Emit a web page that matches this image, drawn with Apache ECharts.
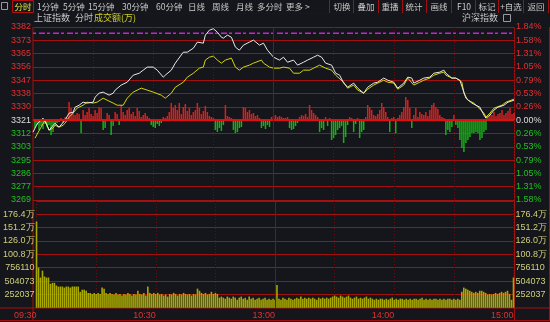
<!DOCTYPE html>
<html><head><meta charset="utf-8">
<script src="https://cdn.jsdelivr.net/npm/echarts@6/dist/echarts.min.js"></script>
<style>html,body{margin:0;padding:0;background:#15161b;}#c{width:550px;height:322px;}</style>
</head><body><div id="c"></div><script>
// ---- data ----
const preClose = 3321;
const priceStep = 8.73;
const priceLabels = ['3269','3277','3286','3295','3303','3312','3321','3330','3338','3347','3356','3365','3373','3382'];
const pctLabels = ['1.58%','1.31%','1.05%','0.79%','0.53%','0.26%','0.00%','0.26%','0.53%','0.79%','1.05%','1.31%','1.58%','1.84%'];
const volStep = 25.2037; // 万
const volLabels = ['','252037','504073','756110','100.8万','126.0万','151.2万','176.4万',''];
const timeLabels = ['09:30','','10:30','','13:00','','14:00','','15:00'];
const magentaLevel = 3378;

// index (white) line: minute index -> price
const priceMinute = [0,2,5,7,8,11,13,16,18,20,21,23,25,27,30,31,33,35,36,38,40,41,44,47,50,53,55,57,60,62,65,66,69,71,75,77,80,82,85,86,88,90,92,94,95,97,99,101,103,105,108,110,113,115,117,120,123,125,127,130,132,135,137,140,142,144,146,149,151,153,155,157,160,162,165,167,170,172,175,177,180,182,185,187,189,190,193,195,198,200,203,205,206,209,211,213,215,216,219,221,223,225,226,228,230,232,235,237,240];
const priceValue = [3313.1,3318.4,3322.3,3317.7,3314.4,3319.0,3316.4,3321.0,3325.6,3326.2,
3329.5,3330.8,3332.8,3332.2,3332.8,3336.1,3338.7,3339.4,3338.7,3337.4,
3338.7,3340.7,3344.0,3345.9,3350.5,3351.8,3353.8,3355.8,3355.8,3353.8,
3349.2,3350.5,3353.8,3358.4,3365.6,3365.6,3368.2,3372.2,3371.5,3376.8,
3380.0,3381.0,3378.7,3375.4,3374.8,3376.8,3375.4,3368.9,3366.9,3370.2,
3372.2,3373.5,3370.2,3371.5,3366.9,3362.3,3360.4,3362.3,3359.0,3360.4,
3357.1,3359.0,3360.4,3362.3,3363.6,3362.3,3358.4,3357.1,3351.8,3350.5,
3345.3,3342.6,3345.3,3342.0,3338.7,3342.6,3345.3,3345.9,3348.6,3347.2,
3345.9,3342.0,3345.3,3349.2,3348.6,3345.3,3347.2,3348.6,3349.2,3351.8,
3352.5,3353.8,3351.8,3348.6,3348.6,3347.2,3339.4,3335.4,3332.2,3330.8,
3329.5,3324.3,3322.3,3324.3,3327.6,3329.5,3330.8,3332.8,3334.1];

// yellow line: minute index -> value
const avgMinute = [1,4,6,8,10,11,13,15,16,18,20,22,25,27,30,32,35,37,40,42,45,47,50,54,57,60,64,66,69,71,75,77,80,83,85,86,88,90,92,94,96,99,101,103,105,108,110,114,115,118,120,123,125,128,130,133,135,138,140,143,146,149,151,155,157,160,162,165,167,170,172,175,177,180,182,185,187,190,193,195,198,200,203,205,206,209,211,214,215,217,220,222,225,226,228,230,234,236,240];
const avgValue = [3309.2,3316.4,3321.0,3314.4,3315.8,3317.7,3316.4,3317.7,3319.0,3323.0,
3325.6,3328.9,3330.8,3332.8,3332.2,3332.8,3335.4,3334.1,3332.2,3330.8,
3330.8,3335.4,3339.4,3342.0,3340.7,3339.4,3337.4,3335.4,3338.7,3342.6,
3345.9,3349.2,3351.8,3355.1,3355.8,3360.4,3362.3,3363.0,3360.4,3358.4,
3360.4,3361.7,3355.8,3353.8,3355.8,3357.1,3358.4,3360.4,3358.4,3355.8,
3355.1,3355.1,3355.8,3355.1,3351.8,3351.8,3353.8,3353.8,3355.1,3357.1,
3355.1,3353.8,3350.5,3345.9,3342.0,3344.0,3340.7,3338.7,3341.3,3344.0,
3345.3,3347.2,3345.9,3345.3,3341.3,3344.0,3348.6,3344.0,3345.9,3347.2,
3348.6,3350.5,3351.8,3352.5,3350.5,3348.6,3348.6,3345.9,3338.7,3334.1,
3332.2,3329.5,3325.6,3323.0,3325.6,3328.9,3330.8,3332.8,3334.8];

// red/green strength bars, one per minute
const strength = [0,-8,-5,-10,-6,-9,-4,-7,-5,-15,-12,-6,-3,-2,2,-3,3,2,18,12,8,5,7,6,-13,10,5,8,12,6,4,10,7,13,12,-10,-8,7,5,-15,-6,8,6,-5,
15,8,5,10,12,6,8,4,12,9,3,5,7,4,2,-5,-7,-8,-4,-6,-3,3,2,4,
8,17,12,15,10,17,6,13,16,9,12,5,8,10,17,12,6,9,14,8,4,3,2,-10,-12,-8,-11,-5,15,4,3,2,-10,-13,-12,-8,-7,
13,12,8,10,6,7,4,5,2,-8,-6,-9,-5,-7,3,4,5,3,4,3,2,2,3,-8,-10,-9,-6,-3,3,5,4,6,3,15,10,7,5,3,
-12,-8,-10,3,-6,2,-20,-18,-15,-10,-8,-6,-23,-17,-5,3,2,-12,-4,2,-18,-12,-10,3,15,13,10,5,4,6,10,17,13,8,3,-12,2,3,-13,2,
5,8,13,23,20,12,-8,5,12,3,8,6,5,8,4,10,15,17,13,11,5,3,2,-15,-10,-12,-7,5,-5,-8,-20,-28,-32,-23,-20,-17,-13,-13,-12,-13,-20,-18,-12,-10,3,
7,5,8,4,6,7,10,5,7,9,12,6,7];

// turnover per minute, in 万
const volume = [163,76,57,70,59,57,57,45,47,47, 42,40,40,40,38,40,40,38,40,40, 40,40,30,34,34,32,28,28,26,28,
26,28,26,38,36,28,26,28,26,25, 28,25,26,23,26,25,28,26,23,26, 25,32,26,25,28,23,40,28,26,28,
26,28,25,26,23,25,21,26,25,28, 26,23,26,25,28,26,25,26,23,26, 25,36,32,28,26,28,25,26,30,26,
28,26,19,21,19,17,21,19,17,21, 19,15,19,21,17,19,15,21,17,19, 15,17,19,15,17,19,15,17,15,17, 15,
43,17,15,19,17,15,19,17,15,17,19,17,21,
17,19,17,19,17,19,17,15,19,17,19,17,19,17,19,
21,23,21,19,23,21,19,21,23,
19,17,19,21,17,19,17,19,21,17,19,
17,15,17,15,17,17,15,17,15,17,19,15,17,15,17,17,15,17,15,17,15,17,17,15,17,19,15,17,15,17,15,17,17,15,17,15,17,15,17,17,15,17,15,17,15,
30,38,36,34,32, 30,28,30,28,32,32,30, 28,25,26,25,26,28,26,28,30,28, 30,32,26,15, 57];

// ---- chart ----
const pMin = preClose - 6*priceStep, pMax = preClose + 7*priceStep;
const redC = '#e23030', greenC = '#1fc21f', whiteC = '#dcdcdc', volC = '#cfcf7a';
const gridRed = '#a3100f', dotRed = '#6e0c0c';
const pIdx = v => Math.round((Number(v) - pMin) / priceStep);
const vIdx = v => Math.round(Number(v) / volStep);
const sc = i => i > 6 ? redC : (i < 6 ? greenC : whiteC);
const FONT = 'Liberation Sans';
const CJK = 'Noto Sans CJK SC';

const chart = echarts.init(document.getElementById('c'), null, {renderer: 'canvas'});

const graphics = [];
function txt(x, y, s, color, align, size) {
  graphics.push({type: 'text', x: x, y: y, silent: true,
    style: {text: s, fill: color, font: (size || 9) + 'px "' + CJK + '"', align: align || 'left', verticalAlign: 'middle'}});
}
function ln(x1, y1, x2, y2, color, w) {
  graphics.push({type: 'line', silent: true, shape: {x1: x1, y1: y1, x2: x2, y2: y2},
    style: {stroke: color, lineWidth: w || 1}});
}
// toolbar
graphics.push({type: 'rect', silent: true, shape: {x: 1.5, y: 2.5, width: 6, height: 7}, style: {fill: 'none', stroke: '#9a9a9a', lineWidth: 1}});
graphics.push({type: 'rect', silent: true, shape: {x: 12.5, y: 0.5, width: 21, height: 12}, style: {fill: 'none', stroke: '#b01010', lineWidth: 1}});
txt(23, 6.5, '分时', '#e6e640', 'center', 8.5);
const leftTabs = [['1分钟', 37], ['5分钟', 63], ['15分钟', 88], ['30分钟', 122], ['60分钟', 156], ['日线', 188], ['周线', 212], ['月线', 236], ['多分时', 257], ['更多 >', 286]];
leftTabs.forEach(t => txt(t[1], 6.5, t[0], '#c8c8c8', 'left', 8.5));
const rightTabs = [['切换', 342], ['叠加', 366], ['重播', 390], ['统计', 414], ['画线', 439], ['F10', 464], ['标记', 487], ['+自选', 511], ['返回', 536]];
rightTabs.forEach(t => txt(t[1], 6.5, t[0], '#c8c8c8', 'center', 8.5));
[329.5, 353.5, 378.5, 402.5, 426.5, 451.5, 475.5, 498.5, 523.5, 548.5].forEach(x => ln(x, 0, x, 13, '#a01010'));
ln(0, 13.5, 550, 13.5, '#2a1010');
// second row
txt(34, 18, '上证指数', '#c4c4c4');
txt(75, 18, '分时', '#c4c4c4');
txt(94, 18, '成交额(万)', '#d0d020');
txt(462, 18, '沪深指数', '#c4c4c4');
graphics.push({type: 'rect', silent: true, shape: {x: 503.5, y: 14.5, width: 7, height: 7}, style: {fill: 'none', stroke: '#9a9a9a', lineWidth: 1}});
// frame
ln(33, 27, 33, 320, gridRed);
ln(514.5, 27, 514.5, 320, gridRed);
ln(549.5, 27, 549.5, 320, gridRed);
ln(0, 308, 550, 308, gridRed);
ln(0, 320.5, 550, 320.5, gridRed);

const commonX = {type: 'value', min: 0, max: 240, interval: 30,
  axisLine: {show: false}, axisTick: {show: false},
  splitLine: {show: true, lineStyle: {color: dotRed, type: [1, 2], width: 1}}};

chart.setOption({
  animation: false,
  backgroundColor: '#15161b',
  textStyle: {fontFamily: FONT},
  grid: [
    {left: 33, right: 36, top: 27, height: 173},
    {left: 33, right: 36, top: 201, height: 106.7}
  ],
  xAxis: [
    Object.assign({gridIndex: 0, axisLabel: {show: false}}, commonX),
    Object.assign({gridIndex: 1, axisLabel: {show: true, align: 'right', margin: 3, fontSize: 9, fontFamily: FONT, color: redC,
      formatter: v => timeLabels[Math.round(v / 30)] || ''}}, commonX)
  ],
  yAxis: [
    {type: 'value', gridIndex: 0, position: 'left', min: pMin, max: pMax, interval: priceStep,
      axisLine: {show: false}, axisTick: {show: false},
      axisLabel: {showMinLabel: true, showMaxLabel: true, margin: 2, fontSize: 9, fontFamily: FONT,
        formatter: v => priceLabels[pIdx(v)] || '', color: v => sc(pIdx(v))},
      splitLine: {show: true, lineStyle: {color: gridRed, width: 1}}},
    {type: 'value', gridIndex: 0, position: 'right', min: pMin, max: pMax, interval: priceStep,
      axisLine: {show: false}, axisTick: {show: false}, splitLine: {show: false},
      axisLabel: {showMinLabel: true, showMaxLabel: true, margin: 2, fontSize: 9, fontFamily: FONT,
        formatter: v => pctLabels[pIdx(v)] || '', color: v => sc(pIdx(v))}},
    {type: 'value', gridIndex: 0, min: -80, max: 93, show: false, splitLine: {show: false}},
    {type: 'value', gridIndex: 1, position: 'left', min: 0, max: 8 * volStep, interval: volStep,
      axisLine: {show: false}, axisTick: {show: false},
      axisLabel: {showMinLabel: true, showMaxLabel: true, margin: 2, fontSize: 9, fontFamily: FONT, color: volC,
        formatter: v => volLabels[vIdx(v)] || ''},
      splitLine: {show: true, lineStyle: {color: gridRed, width: 1}}},
    {type: 'value', gridIndex: 1, position: 'right', min: 0, max: 8 * volStep, interval: volStep,
      axisLine: {show: false}, axisTick: {show: false}, splitLine: {show: false},
      axisLabel: {showMinLabel: true, showMaxLabel: true, margin: 2, fontSize: 9, fontFamily: FONT, color: volC,
        formatter: v => volLabels[vIdx(v)] || ''}}
  ],
  series: [
    {type: 'bar', xAxisIndex: 0, yAxisIndex: 2, barWidth: 1.5, z: 1, silent: true,
      data: strength.map((v, i) => [i, v]),
      itemStyle: {color: p => p.value[1] >= 0 ? '#d82020' : '#14b014'}},
    {type: 'line', xAxisIndex: 0, yAxisIndex: 0, symbol: 'none', z: 2, silent: true,
      data: [[0, magentaLevel], [240, magentaLevel]],
      lineStyle: {color: '#d21ed2', width: 1.5, type: [3, 3, 6, 2]}},
    {type: 'line', xAxisIndex: 0, yAxisIndex: 0, symbol: 'none', z: 3, silent: true,
      data: avgMinute.map((m, i) => [m, avgValue[i]]),
      lineStyle: {color: '#d4d410', width: 1},
      markLine: {silent: true, symbol: 'none', label: {show: false},
        data: [{yAxis: preClose, lineStyle: {color: '#e01010', width: 2, type: 'solid'}},
               {xAxis: 120, lineStyle: {color: '#8a0c0c', width: 1, type: 'solid'}}]}},
    {type: 'line', xAxisIndex: 0, yAxisIndex: 0, symbol: 'none', z: 4, silent: true,
      data: priceMinute.map((m, i) => [m, priceValue[i]]),
      lineStyle: {color: '#e8e8e8', width: 1}},
    {type: 'bar', xAxisIndex: 1, yAxisIndex: 3, barWidth: 1.6, z: 2, silent: true,
      data: volume.map((v, i) => [i, v]),
      itemStyle: {color: '#a8a800'},
      markLine: {silent: true, symbol: 'none', label: {show: false},
        data: [{xAxis: 120, lineStyle: {color: '#8a0c0c', width: 1, type: 'solid'}}]}}
  ],
  graphic: graphics
});
</script></body></html>
